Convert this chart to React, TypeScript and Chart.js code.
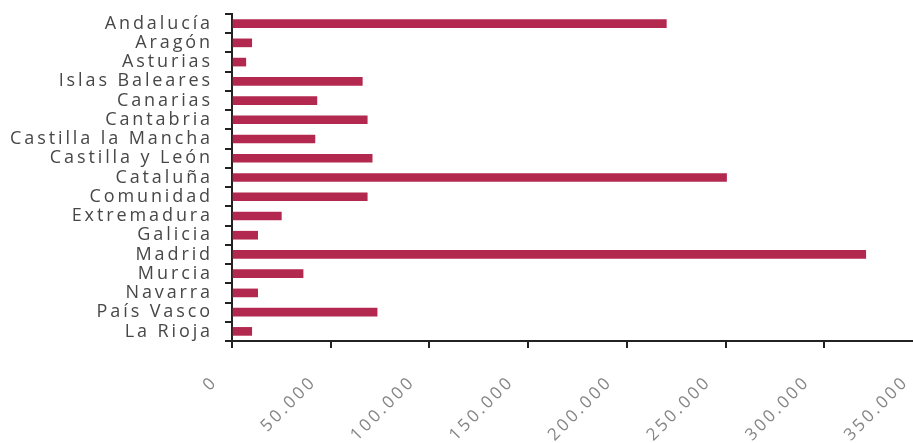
import React, { useEffect, useRef } from "react";
import { Chart, registerables } from "chart.js";

Chart.register(...registerables);

const categories: string[] = [
  "Andalucía", "Aragón", "Asturias", "Islas Baleares", "Canarias", "Cantabria",
  "Castilla la Mancha", "Castilla y León", "Cataluña", "Comunidad", "Extremadura",
  "Galicia", "Madrid", "Murcia", "Navarra", "País Vasco", "La Rioja",
];
const values: number[] = [
  220000, 10000, 7000, 66000, 43000, 68500, 42000, 71000, 250500, 68500, 25000,
  13000, 321000, 36000, 13000, 73500, 10000,
];
const xTicks: number[] = [0, 50000, 100000, 150000, 200000, 250000, 300000, 350000];

const fmt = (v: number) => (v === 0 ? "0" : v.toLocaleString("de-DE"));

const SPACING = "2.9px";
const spacingPlugin = {
  id: "spacing",
  beforeInit(chart: any) {
    chart.ctx.letterSpacing = SPACING;
  },
  beforeLayout(chart: any) {
    chart.ctx.letterSpacing = SPACING;
  },
  beforeDraw(chart: any) {
    chart.ctx.letterSpacing = SPACING;
  },
};

export default function App() {
  const ref = useRef<HTMLCanvasElement | null>(null);
  useEffect(() => {
    if (!ref.current) return;
    const chart = new Chart(ref.current, {
      type: "bar",
      data: {
        labels: categories,
        datasets: [
          {
            data: values,
            backgroundColor: "#B3284F",
            barThickness: 8,
          },
        ],
      },
      plugins: [spacingPlugin],
      options: {
        indexAxis: "y",
        animation: false,
        responsive: false,
        layout: { padding: { top: 14, left: 0, right: 0, bottom: 0 } },
        plugins: { legend: { display: false }, tooltip: { enabled: false } },
        scales: {
          x: {
            min: 0,
            max: 350000,
            afterBuildTicks: (s: any) => {
              s.ticks = xTicks.map((v) => ({ value: v }));
            },
            afterFit: (s: any) => {
              s.height = 102;
              s.paddingRight = 0;
              s.paddingLeft = 0;
            },
            border: { display: true, color: "#222", width: 2 },
            grid: { drawOnChartArea: false, color: "#222", tickLength: 7, lineWidth: 2 },
            ticks: {
              autoSkip: false,
              maxRotation: 45,
              minRotation: 45,
              labelOffset: -17,
              padding: 24,
              color: "#858585",
              font: { family: "Open Sans", size: 17 },
              callback: (v: any) => fmt(Number(v)),
            },
          },
          y: {
            afterFit: (s: any) => {
              s.width = 232;
              s.paddingTop = 0;
              s.paddingBottom = 0;
            },
            border: { display: true, color: "#222", width: 2 },
            grid: { drawOnChartArea: false, color: "#222", tickLength: 7, lineWidth: 2 },
            ticks: {
              autoSkip: false,
              padding: 12,
              color: "#474747",
              font: { family: "Open Sans", size: 18 },
            },
          },
        },
      },
    });
    return () => chart.destroy();
  }, []);
  return (
    <div style={{ position: "absolute", left: 0, top: 0, width: 913, height: 443, overflow: "hidden", background: "#fff" }}>
      <canvas ref={ref} width={923} height={443} style={{ display: "block" }} />
    </div>
  );
}
